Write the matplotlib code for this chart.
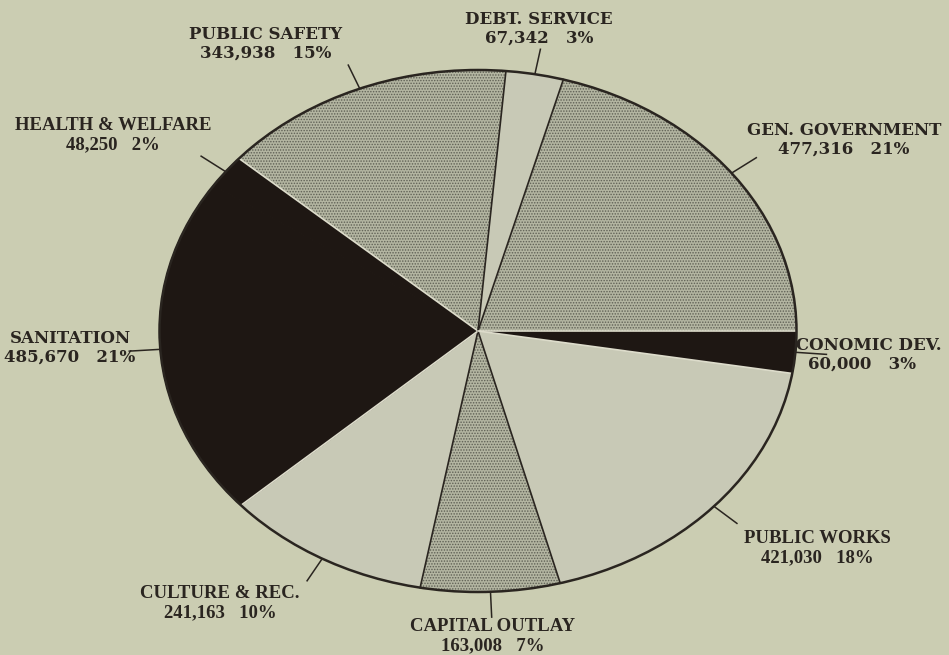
import numpy as np
import matplotlib
matplotlib.use("Agg")
import matplotlib.pyplot as plt
from matplotlib.patches import Circle

# slices in clockwise order starting at 3 o'clock
categories = ["ECONOMIC DEV.", "PUBLIC WORKS", "CAPITAL OUTLAY", "CULTURE & REC.",
              "SANITATION", "HEALTH & WELFARE", "PUBLIC SAFETY", "DEBT. SERVICE",
              "GEN. GOVERNMENT"]
amounts = [60000, 421030, 163008, 241163, 485670, 48250, 343938, 67342, 477316]
shading = ["black", "light", "speckle", "light", "black", "black", "speckle", "light", "speckle"]

# label block centres in pixels, and which typeface the scan used
label_pos = [(862, 355), (817, 548), (493, 636), (220, 603), (70, 348),
             (113, 135), (266, 44), (539, 29), (844, 140)]
label_face = ["wide", "narrow", "narrow", "narrow", "wide", "narrow", "wide", "wide", "wide"]

W, H = 949, 655
cx, cy, rx, ry = 478, 331, 318.5, 261   # ellipse centre / radii in pixels

bg = "#cbcdb2"
ink = "#2a2520"
fills = {"black": "#1e1713", "light": "#c8c9b6", "speckle": "#b3b5a1"}

plt.rcParams["hatch.linewidth"] = 0.7

fig = plt.figure(figsize=(W / 100, H / 100), dpi=100, facecolor=bg)
ax = fig.add_axes([0, 0, 1, 1])
ax.set_facecolor(bg)

wedges, _ = ax.pie(amounts, startangle=0, counterclock=False, radius=1,
                   colors=[fills[s] for s in shading],
                   wedgeprops=dict(linewidth=0))
for w, s in zip(wedges, shading):
    if s == "speckle":
        w.set_hatch("......")
        w.set_edgecolor("#5f6055")
        w.set_linewidth(0)
    elif s == "black":
        # hide the seam between touching black slices
        w.set_edgecolor(fills["black"])
        w.set_linewidth(0.8)

# stretch unit circle into the ellipse of the scan
ax.set_aspect("auto")
ax.set_xlim(-cx / rx, (W - cx) / rx)
ax.set_ylim(-(H - cy) / ry, cy / ry)
ax.axis("off")

# radial boundaries between neighbouring slices
n = len(wedges)
for i in range(n):
    a = np.deg2rad(wedges[i].theta1)  # clockwise: theta1 is the trailing edge
    j = (i + 1) % n
    si, sj = shading[i], shading[j]
    if si == "black" and sj == "black":
        continue
    col = "#dddccb" if "black" in (si, sj) else ink
    ax.plot([0, np.cos(a)], [0, np.sin(a)], color=col, lw=1.2, zorder=2)

ax.add_patch(Circle((0, 0), 1, fill=False, ec=ink, lw=1.8, zorder=3))

# leader lines
for w in wedges:
    m = np.deg2rad((w.theta1 + w.theta2) / 2)
    ax.plot([np.cos(m), 1.1 * np.cos(m)], [np.sin(m), 1.1 * np.sin(m)],
            color=ink, lw=1.1, zorder=3, solid_capstyle="butt")

total = sum(amounts)
for name, amt, (x, y), face in zip(categories, amounts, label_pos, label_face):
    txt = f"{name}\n{amt:,}   {round(100 * amt / total)}%"
    if face == "wide":
        kw = dict(family="DejaVu Serif", fontsize=12)
    else:
        kw = dict(family="Liberation Serif", fontsize=13.5)
    ax.text(x / W, 1 - y / H, txt, transform=fig.transFigure, ha="center", va="center",
            multialignment="center", color=ink, fontweight="bold", linespacing=1.15,
            zorder=0.5, **kw)

fig.savefig("out.png", dpi=100, facecolor=bg)
